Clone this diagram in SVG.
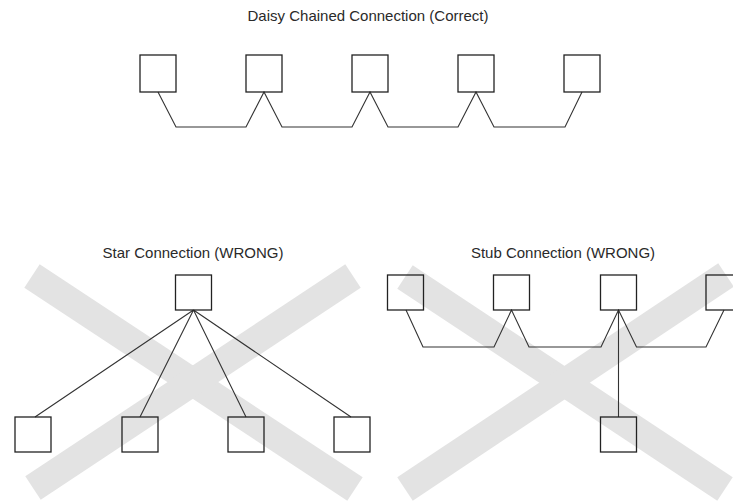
<svg xmlns="http://www.w3.org/2000/svg" width="733" height="501" viewBox="0 0 733 501">
<style>
.title{font-family:"Liberation Sans",Arial,sans-serif;font-size:15px;fill:#2a2a2a;text-anchor:middle}
.node rect{fill:none;stroke:#222;stroke-width:1.3}
.wire{fill:none;stroke:#333;stroke-width:1.1;stroke-linejoin:miter}
.cross line{stroke:#e3e3e3;stroke-width:28;stroke-linecap:butt}
</style>
<rect width="733" height="501" fill="#fff"/>
<g id="wrong-marks" class="cross">
<line x1="32" y1="276" x2="355" y2="489"/>
<line x1="33" y1="488" x2="353" y2="276"/>
<line x1="405" y1="277" x2="725" y2="489"/>
<line x1="405" y1="489" x2="726" y2="275"/>
</g>
<g id="titles">
<text class="title" x="368" y="21">Daisy Chained Connection (Correct)</text>
<text class="title" x="193" y="258">Star Connection (WRONG)</text>
<text class="title" x="563" y="258">Stub Connection (WRONG)</text>
</g>
<g id="connectors">
<path class="wire" d="M158,92 L176,127 L246,127 L264,92 L282,127 L352,127 L370,92 L388,127 L458,127 L476,92 L494,127 L565,127 L582,92"/>
<path class="wire" d="M193.5,310 L35,417 M193.5,310 L140,417 M193.5,310 L246,417 M193.5,310 L351,417"/>
<path class="wire" d="M406,310 L423,347 L494,347 L511.5,310 L529,347 L601,347 L618.5,310 L636.5,347 L706,347 L724,310 M618.5,310 L618.5,417"/>
</g>
<g id="daisy-1" class="node"><rect x="140" y="55" width="36" height="37"/></g>
<g id="daisy-2" class="node"><rect x="246" y="55" width="36" height="37"/></g>
<g id="daisy-3" class="node"><rect x="352" y="55" width="36" height="37"/></g>
<g id="daisy-4" class="node"><rect x="458" y="55" width="36" height="37"/></g>
<g id="daisy-5" class="node"><rect x="564" y="55" width="36" height="37"/></g>
<g id="star-hub" class="node"><rect x="175.5" y="275" width="36" height="35"/></g>
<g id="star-1" class="node"><rect x="15" y="417" width="36" height="35"/></g>
<g id="star-2" class="node"><rect x="122" y="417" width="36" height="35"/></g>
<g id="star-3" class="node"><rect x="228" y="417" width="36" height="35"/></g>
<g id="star-4" class="node"><rect x="334" y="417" width="36" height="35"/></g>
<g id="stub-1" class="node"><rect x="387.5" y="275" width="36" height="35"/></g>
<g id="stub-2" class="node"><rect x="493.5" y="275" width="36" height="35"/></g>
<g id="stub-3" class="node"><rect x="600.5" y="275" width="36" height="35"/></g>
<g id="stub-4" class="node"><rect x="706" y="275" width="36" height="35"/></g>
<g id="stub-5" class="node"><rect x="600.5" y="417" width="36" height="35"/></g>
</svg>
